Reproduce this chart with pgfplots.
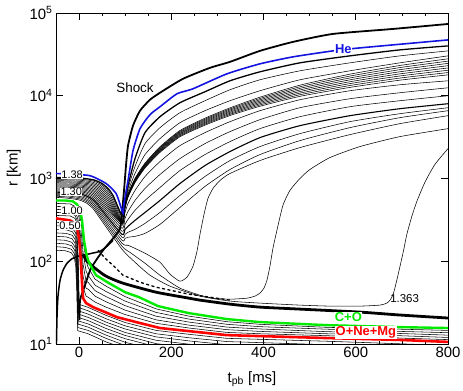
\documentclass[border=0pt]{standalone}
\usepackage{fontspec}
\setmainfont{Liberation Sans}
\usepackage{pgfplots}
\pgfplotsset{compat=1.18}
\definecolor{heblue}{RGB}{20,20,225}
\definecolor{cogreen}{RGB}{0,235,0}
\definecolor{onred}{RGB}{255,0,0}
\begin{document}
\begin{tikzpicture}[
  sh/.style={black, line width=0.55pt},
  shs/.style={black, line width=0.55pt, smooth, tension=0.35},
  lab/.style={font=\fontsize{11}{12}\selectfont, fill=white, inner sep=0.4pt},
  tag/.style={font=\fontsize{13}{15}\selectfont\bfseries, fill=white, inner sep=0.6pt},
]
\begin{axis}[
  at={(0,0)}, anchor=south west,
  scale only axis, width=392bp, height=331bp,
  xmin=-50, xmax=800, ymin=10, ymax=100000,
  ymode=log, log basis y=10,
  xtick={0,200,400,600,800}, xticklabels={0,200,400,600,800},
  minor x tick num=3,
  ytick={10,100,1000,10000,100000},
  yticklabels={10\textsuperscript{1},10\textsuperscript{2},10\textsuperscript{3},10\textsuperscript{4},10\textsuperscript{5}},
  tick align=inside, major tick length=7bp, minor tick length=3.5bp,
  every tick/.append style={black, line width=0.6pt},
  axis line style={line width=0.8pt},
  tick label style={font=\fontsize{15}{17}\selectfont},
  label style={font=\fontsize{15}{17}\selectfont},
  xlabel={t\textsubscript{pb} [ms]},
  ylabel={r [km]},
  xlabel style={at={(axis description cs:0.5,-0.106)}, anchor=center},
  ylabel style={at={(axis description cs:-0.108,0.532)}, anchor=center},
]

% ejected shells (outer mantle)
\addplot[shs] coordinates {(-50,999)(0.5,985)(30.8,932)(48.1,846)(61.1,735)(72.0,606)(93.2,339)(99.7,500)(106.2,758)(121.3,1395)(143,2640)(175.5,4116)(218.8,6240)(273,8705)(327.2,11810)(392.2,15590)(478.9,20010)(587.2,24980)(695.5,30330)(800,34850)};
\addplot[shs] coordinates {(-50,970)(-1.3,957)(29.0,905)(46.3,822)(59.3,714)(70.2,589)(93.2,321)(99.7,486)(106.2,697)(121.3,1149)(143,1946)(175.5,3033)(218.8,4728)(273,6596)(327.2,8705)(392.2,11490)(478.9,15590)(587.2,20010)(695.5,24980)(800,30330)};
\addplot[shs] coordinates {(-50,942)(-3.0,929)(27.3,879)(44.6,798)(57.6,694)(68.5,572)(93.2,306.7)(99.7,482.9)(106.2,655)(121.3,1002.7)(143,1534.7)(175.5,2416)(218.8,3803)(273,5356)(327.2,7137)(392.2,9604)(478.9,13420)(587.2,18221)(695.5,23205)(800,27956)};
\addplot[shs] coordinates {(-50,915)(-4.7,902)(25.6,854)(42.9,775)(55.9,674)(66.8,555)(93.2,303.3)(99.7,476.2)(106.2,646)(121.3,986.2)(143,1505.2)(175.5,2364)(218.8,3710)(273,5210)(327.2,6923)(392.2,9264)(478.9,12838)(587.2,17289)(695.5,21890)(800,26210)};
\addplot[shs] coordinates {(-50,889)(-6.5,877)(23.8,830)(41.1,753)(54.1,654)(65.0,539)(93.2,300)(99.7,469.7)(106.2,637.1)(121.3,969.9)(143,1476.4)(175.5,2312)(218.8,3618)(273,5067)(327.2,6715)(392.2,8936)(478.9,12280)(587.2,16404)(695.5,20649)(800,24608)};
\addplot[shs] coordinates {(-50,863)(-8.2,851)(22.1,805)(39.4,731)(52.4,635)(63.3,524)(93.2,296.6)(99.7,463.2)(106.2,628.3)(121.3,953.9)(143,1448)(175.5,2261)(218.8,3529)(273,4929)(327.2,6514)(392.2,8620)(478.9,11748)(587.2,15565)(695.5,19479)(800,23085)};
\addplot[shs] coordinates {(-50,838)(-9.9,827)(20.4,782)(37.7,710)(50.7,617)(61.6,508)(93.2,293.4)(99.7,456.8)(106.2,619.7)(121.3,938.2)(143,1420.1)(175.5,2211)(218.8,3442)(273,4794)(327.2,6318)(392.2,8315)(478.9,11238)(587.2,14765)(695.5,18377)(800,21658)};
\addplot[shs] coordinates {(-50,814)(-11.7,803)(18.6,760)(35.9,690)(48.9,599)(59.8,494)(93.2,290.1)(99.7,450.5)(106.2,611.2)(121.3,922.7)(143,1392.8)(175.5,2163)(218.8,3357)(273,4663)(327.2,6128)(392.2,8020)(478.9,10750)(587.2,14010)(695.5,17336)(800,20318)};
\addplot[shs] coordinates {(-50,791)(-13.4,780)(16.9,738)(34.2,670)(47.2,582)(58.1,480)(93.2,286.9)(99.7,444.3)(106.2,602.8)(121.3,907.5)(143,1366.1)(175.5,2115)(218.8,3274)(273,4535)(327.2,5944)(392.2,7737)(478.9,10284)(587.2,13293)(695.5,16352)(800,19061)};
\addplot[shs] coordinates {(-50,768)(-15.1,757)(15.2,717)(32.5,651)(45.5,565)(56.4,466)(93.2,283.8)(99.7,438.2)(106.2,594.5)(121.3,892.5)(143,1339.9)(175.5,2069)(218.8,3193)(273,4411)(327.2,5766)(392.2,7463)(478.9,9837)(587.2,12613)(695.5,15426)(800,17884)};
\addplot[shs] coordinates {(-50,746)(-16.9,736)(13.4,696)(30.7,632)(43.7,549)(54.6,453)(93.2,271)(99.7,389)(106.2,500)(121.3,717)(143,1057)(175.5,1602)(218.8,2498)(273,3583)(327.2,4861)(392.2,6596)(478.9,8950)(587.2,11490)(695.5,13567)(800,15160)};
\addplot[shs] coordinates {(-50,725)(-18.6,715)(11.7,677)(29.0,614)(42.0,534)(52.9,440)(93.2,250)(99.7,330)(106.2,400)(121.3,543)(143,758)(175.5,1117)(218.8,1741)(273,2640)(327.2,3683)(392.2,5138)(478.9,7168)(587.2,9201)(695.5,10870)(800,12484)};
\addplot[shs] coordinates {(-50,704)(-20.3,694)(10.0,657)(27.3,596)(40.3,518)(51.2,427)(93.2,230)(99.7,279)(106.2,321)(121.3,412)(143,543)(175.5,779)(218.8,1248)(273,1946)(327.2,2791)(392.2,4003)(478.9,5584)(587.2,7370)(695.5,8705)(800,10000)};
\addplot[shs, line width=1.1pt] coordinates {(-50,684)(-22.1,675)(8.2,638)(25.5,579)(38.5,504)(49.4,415)(93.2,211)(99.7,243)(106.2,264)(121.3,312)(143,389)(175.5,543)(218.8,870)(273,1434)(327.2,2115)(392.2,3119)(478.9,4350)(587.2,5741)(695.5,6972)(800,8009)};
\addplot[shs] coordinates {(-50,664)(-23.8,655)(6.5,620)(23.8,563)(36.8,489)(47.7,403)(93.2,195)(99.7,211)(106.2,224)(121.3,243)(143,287)(175.5,389)(218.8,624)(273,1057)(327.2,1647)(392.2,2430)(478.9,3485)(587.2,4861)(695.5,6069)(800,7168)};
\addplot[shs] coordinates {(-50,645)(-25.5,636)(4.8,602)(22.1,546)(35.1,475)(46.0,391)(93.2,179)(99.7,189)(106.2,195)(121.3,200)(143,217)(175.5,279)(218.8,447)(273,801)(327.2,1284)(392.2,1946)(478.9,2870)(587.2,4116)(695.5,5432)(800,6596)};
% late-ejected shells
\addplot[shs] coordinates {(-50,627)(-27.3,618)(3.0,585)(20.3,531)(33.3,462)(44.2,380)(93.2,165)(106.2,156)(121.3,143)(143,125)(175.5,97.3)(197.2,69.7)(218.8,57.4)(234,64.2)(247,87)(255.7,132)(262.2,211)(270.9,368)(279.5,574)(290.4,758)(305.5,946)(327.2,1149)(392.2,1647)(478.9,2363)(587.2,3389)(695.5,4599)(800,5741)};
\addplot[shs] coordinates {(-50,609)(-29.0,600)(1.3,568)(18.6,516)(31.6,448)(42.5,369)(93.2,152)(110.5,128)(143,94.6)(175.5,67.8)(218.8,47.3)(262.2,38.9)(290.4,35.8)(327.2,34.8)(364,35.8)(381.4,37.9)(392.2,41.2)(400.9,47.3)(407.4,59)(413.9,87)(420.4,143)(429,236)(442,473)(457.2,717)(478.9,1000)(500.5,1284)(543.9,1790)(608.9,2430)(695.5,3206)(800,4003)};
\addplot[shs] coordinates {(-50,591)(-30.7,583)(-0.4,552)(16.9,501)(29.9,435)(40.8,359)(93.2,139.5)(121.3,97.3)(153.8,67.8)(197.2,50)(262.2,37.9)(327.2,33)(392.2,31.2)(478.9,29.5)(543.9,28.7)(608.9,28.7)(652.2,29.5)(667.4,31.2)(676,34.8)(682.5,42.3)(689,59)(695.5,84.7)(704.2,139.5)(710.7,211)(721.5,348)(732.4,528)(749.7,895)(771.4,1474)(800,2298)};

% accreted shells between C+O and O+Ne+Mg
\addplot[sh] coordinates {(-50,500)(-19.5,493)(-8.7,460)(-4.3,435)(0,389)(4.3,295)(6.5,243)(8.7,179)(15.2,103)(19.5,84.7)(34.7,60.7)(58.5,50)(99.7,37.4)(166.8,26.6)(238.3,21.7)(320.7,18.6)(392.2,17.3)(537.4,15.9)(695.5,15.1)(800,14.6)};
\addplot[sh] coordinates {(-50,460)(-19.5,454)(-8.7,423)(-4.3,389)(0,339)(4.3,230)(6.5,179)(8.7,128)(15.2,75.8)(19.5,67.8)(34.7,51.4)(58.5,43.1)(99.7,33)(166.8,24.1)(238.3,20)(320.7,17.3)(392.2,16.2)(537.4,15.1)(695.5,14.2)(800,13.7)};
\addplot[sh] coordinates {(-50,423)(-19.5,417)(-8.7,389)(-4.3,348)(0,287)(4.3,179)(6.5,132)(8.7,92)(15.2,57.4)(19.5,55.8)(34.7,44.1)(58.5,37.4)(99.7,29.1)(166.8,21.7)(238.3,18.4)(320.7,16)(392.2,15.2)(537.4,14.1)(695.5,13.4)(800,12.8)};
\addplot[sh] coordinates {(-50,389)(-19.5,384)(-8.7,358)(-4.3,312)(0,250)(4.3,139.5)(6.5,97.3)(8.7,66)(15.2,47.3)(19.5,46)(34.7,37.9)(58.5,32.4)(99.7,25.7)(166.8,19.6)(238.3,16.9)(320.7,14.9)(392.2,14.2)(537.4,13.3)(695.5,12.6)(800,12)};
\addplot[sh] coordinates {(-50,358)(-19.5,353)(-8.7,330)(-4.3,279)(0,217)(4.3,112)(6.5,71.7)(8.7,48.6)(15.2,37.9)(19.5,36.8)(34.7,32.1)(58.5,27.9)(99.7,22.7)(166.8,17.8)(238.3,15.6)(320.7,13.8)(392.2,13.3)(537.4,12.6)(695.5,11.8)(800,11.3)};

% inner core shells below O+Ne+Mg
\addplot[sh] coordinates {(-50,295)(-26.4,291)(-13.4,275)(-6.9,243)(-3.7,189)(-1.5,97.3)(0.4,30.1)(19.5,27.7)(58.5,22.2)(99.7,18.2)(166.8,14.6)(238.3,13.1)(320.7,11.7)(537.4,10.8)(800,9.6)};
\addplot[sh] coordinates {(-50,268)(-26.9,264)(-13.9,250)(-7.4,220)(-4.1,172)(-1.95,88.3)(0,27.5)(19.5,25.2)(58.5,20.2)(99.7,16.6)(166.8,13.3)(238.3,11.9)(320.7,10.7)(537.4,9.8)(800,8.8)};
\addplot[sh] coordinates {(-50,243)(-27.3,240)(-14.3,227)(-7.8,200)(-4.55,156)(-2.4,80.1)(-0.43,25)(19.5,23)(58.5,18.4)(99.7,15.2)(166.8,12.2)(238.3,10.9)(320.7,9.8)(537.4,9)(800,8)};
\addplot[sh] coordinates {(-50,220)(-27.7,217)(-14.7,206)(-8.2,182)(-5,141)(-2.8,72.7)(-0.87,22.9)(19.5,21)(58.5,16.9)(99.7,13.8)(166.8,11.1)(238.3,9.95)(320.7,8.9)(537.4,8.2)(800,7.3)};
\addplot[sh] coordinates {(-50,200)(-28.2,197)(-15.2,187)(-8.7,165)(-5.4,128)(-3.25,66)(-1.3,20.9)(19.5,19.2)(58.5,15.4)(99.7,12.7)(166.8,10.1)(238.3,9.1)(320.7,8.1)(537.4,7.5)(800,6.7)};
\addplot[sh] coordinates {(-50,182)(-28.6,179)(-15.6,169)(-9.1,150)(-5.85,116)(-3.7,60)(-1.7,19)(19.5,17.5)(58.5,14)(99.7,11.6)(166.8,9.3)(238.3,8.3)(320.7,7.4)(537.4,6.8)(800,6.1)};
\addplot[sh] coordinates {(-50,165)(-29,162)(-16,154)(-9.5,136)(-6.3,106)(-4.1,54.3)(-2.2,17.4)(19.5,16)(58.5,12.8)(99.7,10.5)(166.8,8.5)(238.3,7.5)(320.7,6.7)(537.4,6.2)(800,5.6)};
\addplot[sh] coordinates {(-50,150)(-29.5,147)(-16.5,139.5)(-10,123)(-6.7,96)(-4.55,49.4)(-2.6,15.8)(19.5,14.6)(58.5,11.7)(99.7,9.6)(166.8,7.8)(238.3,7)(320.7,6.2)(537.4,5.7)(800,5.1)};
\addplot[sh] coordinates {(-50,136)(-29.9,134)(-16.9,127)(-10.4,112)(-7.15,87)(-5,45)(-3,14.5)(19.5,13.3)(58.5,10.6)(99.7,8.8)(166.8,7.2)(238.3,6.3)(320.7,5.6)(537.4,5.2)(800,4.6)};

% thick curves: noisy band, dashed radius, inner arc
\addplot[black, line width=2.8pt, smooth, tension=0.35] coordinates {(10.8,118)(15.2,103)(34.7,82.3)(58.5,66)(95.3,54.3)(166.8,42.3)(238.3,35.8)(262.2,33.9)(327.2,30.3)(392.2,27.9)(478.9,26.4)(608.9,24.3)(695.5,22.4)(800,20.6)};
\addplot[black, line width=1.3pt, dash pattern=on 3pt off 2.5pt] coordinates {(41.2,136)(56.3,109)(78,84.7)(95.3,67.8)(132.2,55.8)(166.8,48.6)(238.3,40)(327.2,33.9)};
\addplot[black, line width=1.5pt, smooth, tension=0.35] coordinates {(-49.2,9)(-47.7,22.4)(-45.5,38.9)(-41.2,59)(-34.7,77.9)(-26,94.6)(-15.2,107.2)(-2.2,115)(13,119.8)(28.2,125)(45.5,132)(60.7,152)(73.7,179)};

% shock
\addplot[black, line width=1.8pt, smooth, tension=0.35] coordinates {(1.1,19.5)(2.2,33.9)(13,51.4)(26,82.3)(52,135.7)(73.7,189)(88.8,250)(93.2,389)(97.5,717)(101.8,1434)(106.2,2498)(117,4350)(132.2,6596)(153.8,8950)(175.5,10870)(225.3,16020)(283.9,21740)(327.2,25680)(392.2,34850)(463.7,44730)(550.4,55840)(680.4,64150)(800,73700)};

% thick shell just below He
\addplot[black, line width=1.3pt, smooth, tension=0.35] coordinates {(-50,1028)(2.2,1014)(32.5,959)(49.8,871)(62.8,757)(73.7,624)(93.2,358)(99.7,543)(106.2,823)(121.3,1741)(143,3583)(175.5,5584)(218.8,8235)(273,11170)(327.2,15160)(392.2,19460)(478.9,24980)(587.2,30330)(695.5,35830)(800,40030)};

% He
\addplot[heblue, line width=1.6pt, smooth, tension=0.35] coordinates {(-50,1149)(21.7,1087)(58.5,870)(80.2,660)(91,447)(95.3,379)(97.5,500)(106.2,946)(117,2174)(132.2,4003)(153.8,5903)(175.5,7370)(212.4,10570)(247,12140)(320.7,18410)(392.2,24300)(463.7,29500)(550.4,34850)(608.9,37870)(800,47280)};
% C+O
\addplot[cogreen, line width=2.4pt] coordinates {(-50,543)(-30.3,543)(-13,528)(-4.3,486)(2.2,412)(6.5,312)(10.8,179)(15.2,128)(19.5,103)(26,87)(36.8,67.8)(65,54.3)(99.7,42.3)(130,36.8)(171.2,28.7)(238.3,23.6)(320.7,20)(392.2,18.4)(537.4,16.9)(695.5,16)(800,15.6)};
% O+Ne+Mg
\addplot[onred, line width=2.6pt] coordinates {(-50,330)(-19.5,312)(-8.7,287)(-4.3,257)(0,189)(2.2,136)(4.3,89.5)(6.5,54.3)(8.7,35.8)(15.2,31.2)(30.3,27.9)(56.3,24.3)(82.3,21.1)(132.2,17.9)(175.5,15.6)(238.3,14.3)(320.7,12.8)(537.4,11.8)(695.5,11.2)(800,10.6)};

% labels
\node[font=\fontsize{13.5}{15}\selectfont] at (axis cs:121.3,12480) {Shock};
\node[tag, text=heblue] at (axis cs:573,36830) {He};
\node[tag, text=cogreen] at (axis cs:584,20.9) {C+O};
\node[tag, text=onred] at (axis cs:622,13.8) {O+Ne+Mg};
\node[font=\fontsize{11.5}{13}\selectfont] at (axis cs:706,35.8) {1.363};
\node[lab] at (axis cs:-15,1117) {1.38};
\node[lab] at (axis cs:-17,686) {1.30};
\node[lab] at (axis cs:-15,412) {1.00};
\node[lab] at (axis cs:-19.5,272) {0.50};
\end{axis}
\pgfresetboundingbox
\path[use as bounding box] (-56bp,-47bp) rectangle (407bp,344bp);
\end{tikzpicture}
\end{document}
